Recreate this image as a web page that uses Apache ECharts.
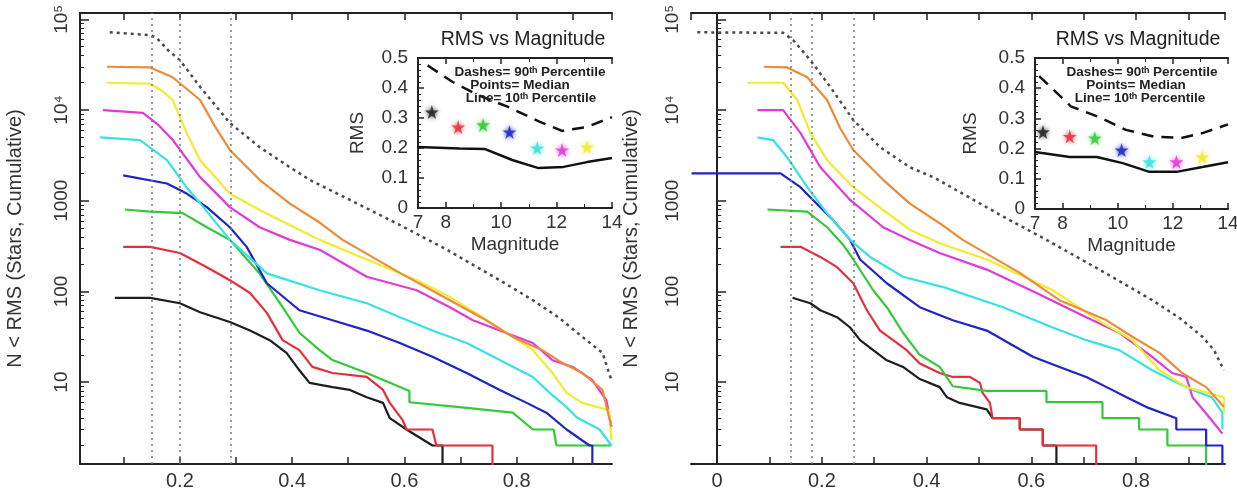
<!DOCTYPE html>
<html><head><meta charset="utf-8">
<script src="https://cdn.jsdelivr.net/npm/echarts@6/dist/echarts.min.js"></script>
<style>html,body{margin:0;padding:0;background:#fff}#c{width:1237px;height:493px}</style>
</head><body><div id="c"></div>
<script>
// ---------------- DATA ----------------
// Left panel: cumulative N(<RMS) per magnitude bin  [rms, N]
const leftTotal   = [[0.075,72000],[0.147,67000],[0.159,62000],[0.180,45000],[0.200,35500],[0.236,18000],[0.289,7200],[0.342,3900],[0.396,2340],[0.431,1700],[0.503,1020],[0.592,540],[0.675,290],[0.770,133],[0.829,80],[0.876,51],[0.917,31.6],[0.953,21],[0.969,10.5]];
const leftOrange  = [[0.070,30000],[0.147,29500],[0.187,23000],[0.236,12900],[0.262,6700],[0.289,3630],[0.342,1700],[0.396,930],[0.449,575],[0.490,370],[0.592,160],[0.681,80],[0.746,48],[0.793,31.5],[0.846,22.5],[0.882,16.2],[0.917,12.6],[0.953,8.2],[0.969,3.2]];
const leftYellow  = [[0.070,20000],[0.147,19500],[0.170,16000],[0.187,12900],[0.212,5600],[0.236,2800],[0.289,1200],[0.342,790],[0.396,540],[0.449,370],[0.533,225],[0.622,133],[0.681,87],[0.739,52],[0.793,31.5],[0.829,22.5],[0.864,12.6],[0.889,7.6],[0.917,5.9],[0.965,4.9],[0.969,2.3]];
const leftMagenta = [[0.063,10000],[0.134,9300],[0.160,7000],[0.187,4700],[0.236,1820],[0.289,850],[0.342,510],[0.396,370],[0.449,288],[0.533,145],[0.622,103],[0.681,67],[0.722,48],[0.770,37],[0.829,27],[0.864,17.4],[0.900,14.7],[0.935,10.5],[0.960,6.3],[0.969,3.2]];
const leftCyan    = [[0.058,5000],[0.129,4650],[0.177,2800],[0.212,1400],[0.236,940],[0.289,370],[0.355,158],[0.449,103],[0.533,74],[0.592,52],[0.650,37],[0.711,27],[0.770,17.5],[0.829,11.4],[0.859,7.6],[0.889,5.3],[0.907,4.1],[0.948,3],[0.969,2]];
const leftBlue    = [[0.099,1900],[0.177,1550],[0.212,1200],[0.248,850],[0.289,510],[0.319,310],[0.355,123],[0.413,62],[0.472,48],[0.533,37],[0.592,27],[0.650,19],[0.711,12.6],[0.770,8.2],[0.818,5.9],[0.853,4.6],[0.889,3],[0.930,2],[0.935,2],[0.935,1]];
const leftGreen   = [[0.102,800],[0.147,760],[0.205,730],[0.248,510],[0.289,370],[0.342,158],[0.383,67],[0.413,35],[0.449,22.5],[0.472,17.5],[0.533,12.6],[0.609,8],[0.609,6],[0.698,5.3],[0.793,4.6],[0.829,3],[0.866,3],[0.871,2],[0.969,2]];
const leftRed     = [[0.099,310],[0.147,310],[0.200,265],[0.248,185],[0.289,133],[0.325,96],[0.355,58],[0.383,29],[0.413,22.5],[0.436,14.7],[0.472,12.6],[0.533,11.4],[0.562,8.2],[0.574,5.9],[0.597,3.8],[0.604,3],[0.650,3],[0.657,2],[0.757,2],[0.757,1]];
const leftBlack   = [[0.084,85],[0.147,85],[0.200,74],[0.236,59],[0.289,46],[0.325,37],[0.360,29],[0.390,21],[0.413,13.5],[0.431,9.8],[0.472,8.8],[0.503,8.2],[0.533,6.8],[0.562,5.9],[0.574,4],[0.604,3],[0.650,2],[0.668,2],[0.668,1]];
const leftVLines  = [0.146, 0.203, 0.289];

// Right panel
const rightTotal   = [[-0.038,72000],[0.126,71000],[0.145,59000],[0.178,35500],[0.216,18000],[0.260,7760],[0.311,3900],[0.368,2340],[0.416,1780],[0.540,700],[0.629,370],[0.730,174],[0.831,80],[0.883,51],[0.927,31.6],[0.949,22.5],[0.968,13.5]];
const rightOrange  = [[0.089,30000],[0.134,29500],[0.172,23000],[0.210,12900],[0.235,6300],[0.260,3630],[0.317,1700],[0.368,930],[0.425,565],[0.469,370],[0.578,160],[0.654,80],[0.744,48],[0.793,31.6],[0.845,21],[0.888,12.6],[0.934,8.8],[0.968,5.3]];
const rightYellow  = [[0.058,20000],[0.126,20000],[0.153,12900],[0.178,5600],[0.210,2800],[0.260,1410],[0.317,790],[0.368,480],[0.425,340],[0.515,225],[0.641,103],[0.736,45],[0.793,29],[0.845,13.5],[0.896,8.8],[0.968,6.8],[0.968,4.6]];
const rightMagenta = [[0.077,10000],[0.126,10000],[0.159,5600],[0.197,2340],[0.254,1020],[0.317,510],[0.368,370],[0.425,265],[0.515,174],[0.610,96],[0.705,52],[0.768,35],[0.831,19],[0.869,12.6],[0.896,11.4],[0.908,6.8],[0.934,4.5],[0.965,2.7]];
const rightCyan    = [[0.077,5000],[0.107,4650],[0.134,3000],[0.172,1410],[0.210,725],[0.254,370],[0.292,240],[0.355,145],[0.435,110],[0.546,67],[0.641,40],[0.705,29],[0.768,22.5],[0.831,13.5],[0.869,10.5],[0.908,8.2],[0.945,6.8],[0.965,4.6],[0.965,3]];
const rightBlue    = [[-0.049,2000],[0.121,2000],[0.159,1410],[0.183,1020],[0.221,615],[0.254,370],[0.273,225],[0.324,123],[0.387,67],[0.450,48],[0.515,37],[0.603,19],[0.654,14.7],[0.705,11.4],[0.744,8.8],[0.782,6.8],[0.820,5.3],[0.877,4],[0.877,3],[0.934,3],[0.934,2],[0.965,2],[0.965,1]];
const rightGreen   = [[0.096,800],[0.172,760],[0.210,510],[0.240,330],[0.260,225],[0.298,103],[0.324,67],[0.355,35],[0.387,20],[0.425,14.7],[0.450,9],[0.515,8],[0.629,8],[0.629,6],[0.736,6],[0.736,4],[0.806,4],[0.806,3],[0.860,3],[0.860,2],[0.934,2],[0.934,1]];
const rightRed     = [[0.121,310],[0.159,310],[0.197,240],[0.229,185],[0.260,123],[0.286,62],[0.311,37],[0.336,29],[0.362,22.5],[0.387,16],[0.425,12.6],[0.450,11.4],[0.483,11.4],[0.502,9.8],[0.507,7.6],[0.521,5.9],[0.526,4],[0.578,4],[0.578,3],[0.622,3],[0.622,2],[0.724,2],[0.724,1]];
const rightBlack   = [[0.144,85],[0.159,80],[0.178,74],[0.197,62],[0.229,52],[0.254,40],[0.273,29],[0.298,22.5],[0.324,17.4],[0.355,14.7],[0.387,10.8],[0.425,8.8],[0.439,6.8],[0.463,5.9],[0.515,5],[0.526,4],[0.578,4],[0.578,3],[0.622,3],[0.622,2],[0.648,2],[0.648,1]];
const rightVLines  = [0.136, 0.178, 0.261];

// Insets: RMS vs Magnitude
const leftInsetMags   = [7.5, 8.45, 9.35, 10.3, 11.3, 12.2, 13.1];
const leftInsetMedian = [0.32, 0.27, 0.277, 0.253, 0.20, 0.193, 0.203];
const leftInset90     = [[7.35,0.475],[8.25,0.42],[9.15,0.377],[10.25,0.337],[11.4,0.287],[12.2,0.257],[13.1,0.27],[14.0,0.303]];
const leftInset10     = [[7.0,0.203],[8.5,0.198],[9.4,0.197],[10.4,0.16],[11.35,0.133],[12.25,0.137],[13.1,0.153],[14.0,0.167]];
const rightInsetMags   = [7.29, 8.26, 9.17, 10.14, 11.15, 12.13, 13.07];
const rightInsetMedian = [0.255, 0.24, 0.235, 0.195, 0.156, 0.156, 0.172];
const rightInset90     = [[7.15,0.44],[8.3,0.34],[9.3,0.305],[10.3,0.262],[11.3,0.24],[12.3,0.235],[13.1,0.252],[14.0,0.28]];
const rightInset10     = [[7.0,0.189],[8.26,0.172],[9.24,0.172],[10.18,0.152],[11.15,0.123],[12.13,0.123],[13.07,0.139],[14.0,0.155]];

const yTickLabels = {1:'10', 2:'100', 3:'1000', 4:'10\u2074', 5:'10\u2075'};

// ---------------- STYLE ----------------
const FONT = '"Liberation Sans", Arial, Helvetica, sans-serif';
const C = {black:'#1e1e1e', red:'#e4303a', green:'#34c83a', blue:'#2024c4', cyan:'#38e2e2',
           magenta:'#e03ad8', yellow:'#f0ec30', orange:'#ec8c38', total:'#4a4a4a', vline:'#7a7a7a'};
const starColors = [C.black, C.red, C.green, C.blue, C.cyan, C.magenta, C.yellow];
const STAR = 'path://M50,0 L61,35 L98,35 L68,57 L79,91 L50,70 L21,91 L32,57 L2,35 L39,35 Z';
const AXC = '#222';

function xFmt(v) {
  const k = Math.round(v * 10);
  if (Math.abs(v * 10 - k) > 1e-6 || k % 2 !== 0) return '';
  return k === 0 ? '0' : (k / 10).toFixed(1);
}
function yFmt(v) {
  const l = Math.log10(v), e = Math.round(l);
  if (Math.abs(l - e) > 1e-6) return '';
  return yTickLabels[e] || '';
}
function mainX(grid, min, max, pos) {
  return {type:'value', gridIndex:grid, min:min, max:max, splitNumber:10, position:pos,
    axisLine:{show:true, onZero:false, lineStyle:{color:AXC, width:2}},
    axisTick:{show:true, inside:true, length:7, lineStyle:{color:AXC, width:1.5}},
    axisLabel:{show: pos === 'bottom', formatter:xFmt, fontSize:20, color:'#333', fontFamily:FONT, margin:7, showMinLabel:false, showMaxLabel:false},
    splitLine:{show:false}};
}
function mainY(grid, gap) {
  return {type:'log', logBase:10, gridIndex:grid, min:1.25, max:117500,
    name:'N < RMS (Stars, Cumulative)', nameLocation:'middle', nameGap:gap,
    nameTextStyle:{fontSize:20, color:'#333', fontFamily:FONT},
    axisLine:{show:true, lineStyle:{color:AXC, width:2}},
    axisTick:{show:true, inside:true, length:9, lineStyle:{color:AXC, width:1.5}},
    minorTick:{show:true, splitNumber:9, length:4, lineStyle:{color:AXC, width:1}},
    axisLabel:{formatter:yFmt, rotate:90, fontSize:19, color:'#333', fontFamily:FONT, margin:9, showMinLabel:false, showMaxLabel:false},
    splitLine:{show:false}};
}
function insetX(grid, pos) {
  return {type:'value', gridIndex:grid, min:7, max:14, splitNumber:4, position:pos,
    name: pos === 'bottom' ? 'Magnitude' : '', nameLocation:'middle', nameGap:27,
    nameTextStyle:{fontSize:19, color:'#333', fontFamily:FONT},
    axisLine:{show:true, onZero:false, lineStyle:{color:AXC, width:2}},
    axisTick:{show:true, inside:true, length:6, lineStyle:{color:AXC, width:1.5}},
    minorTick:{show:true, splitNumber:2, length:4, lineStyle:{color:AXC, width:1}},
    axisLabel:{show: pos === 'bottom', fontSize:19, color:'#333', fontFamily:FONT, margin:5},
    splitLine:{show:false}};
}
function insetY(grid, gap) {
  return {type:'value', gridIndex:grid, min:0, max:0.5, splitNumber:5,
    name:'RMS', nameLocation:'middle', nameGap:gap,
    nameTextStyle:{fontSize:19, color:'#333', fontFamily:FONT},
    axisLine:{show:true, lineStyle:{color:AXC, width:2}},
    axisTick:{show:true, inside:true, length:6, lineStyle:{color:AXC, width:1.5}},
    minorTick:{show:true, splitNumber:5, length:3, lineStyle:{color:AXC, width:1}},
    axisLabel:{fontSize:19, color:'#333', fontFamily:FONT, margin:10},
    splitLine:{show:false}};
}
function line(data, color, xi, yi, extra) {
  return Object.assign({type:'line', xAxisIndex:xi, yAxisIndex:yi, data:data, symbol:'none', showSymbol:false,
    lineStyle:{color:color, width:2.2}, itemStyle:{color:color}, silent:true, z:3}, extra || {});
}
function vlines(vals) {
  return {symbol:['none','none'], silent:true, label:{show:false},
    lineStyle:{color:C.vline, type:[2,4], width:1.5}, data: vals.map(v => ({xAxis:v}))};
}
function stars(mags, med, xi, yi) {
  return {type:'scatter', xAxisIndex:xi, yAxisIndex:yi, symbol:STAR, symbolSize:14, silent:true, z:5,
    data: mags.map((m, i) => ({value:[m, med[i]], itemStyle:{color:starColors[i], shadowBlur:4, shadowColor:starColors[i]}}))};
}

const series = [];
function panel(d, xi, yi, vl) {
  series.push(line(d.total, C.total, xi, yi, {lineStyle:{color:C.total, width:2.5, type:[3,4]}, markLine:vlines(vl)}));
  series.push(line(d.black, C.black, xi, yi));
  series.push(line(d.red, C.red, xi, yi));
  series.push(line(d.green, C.green, xi, yi));
  series.push(line(d.blue, C.blue, xi, yi));
  series.push(line(d.cyan, C.cyan, xi, yi));
  series.push(line(d.magenta, C.magenta, xi, yi));
  series.push(line(d.yellow, C.yellow, xi, yi));
  series.push(line(d.orange, C.orange, xi, yi));
}
panel({total:leftTotal, black:leftBlack, red:leftRed, green:leftGreen, blue:leftBlue, cyan:leftCyan, magenta:leftMagenta, yellow:leftYellow, orange:leftOrange}, 0, 0, leftVLines);
panel({total:rightTotal, black:rightBlack, red:rightRed, green:rightGreen, blue:rightBlue, cyan:rightCyan, magenta:rightMagenta, yellow:rightYellow, orange:rightOrange}, 2, 1, rightVLines);

series.push(line(leftInset90, '#111', 4, 2, {lineStyle:{color:'#111', width:2.5, type:[12,8]}}));
series.push(line(leftInset10, '#111', 4, 2, {lineStyle:{color:'#111', width:2.5}}));
series.push(stars(leftInsetMags, leftInsetMedian, 4, 2));
series.push(line(rightInset90, '#111', 6, 3, {lineStyle:{color:'#111', width:2.5, type:[12,8]}}));
series.push(line(rightInset10, '#111', 6, 3, {lineStyle:{color:'#111', width:2.5}}));
series.push(stars(rightInsetMags, rightInsetMedian, 6, 3));

function txt(x, y, s, size, weight) {
  return {type:'text', x:x, y:y, silent:true, z:10,
    style:{text:s, fontSize:size, fontWeight:weight || 'normal', fontFamily:FONT, fill:'#222', align:'center', verticalAlign:'middle'}};
}

const option = {
  animation:false,
  backgroundColor:'#ffffff',
  grid:[
    {left:80, top:13, width:532, height:451, outerBoundsMode:'none', containLabel:false},
    {left:691, top:13, width:534, height:451, outerBoundsMode:'none', containLabel:false},
    {left:418, top:58, width:194, height:150, outerBoundsMode:'none', containLabel:false},
    {left:1035, top:58, width:193, height:151, outerBoundsMode:'none', containLabel:false}
  ],
  xAxis:[
    mainX(0, 0.022, 0.97, 'bottom'), mainX(0, 0.022, 0.97, 'top'),
    mainX(1, -0.05, 0.97, 'bottom'), mainX(1, -0.05, 0.97, 'top'),
    insetX(2, 'bottom'), insetX(2, 'top'),
    insetX(3, 'bottom'), insetX(3, 'top')
  ],
  yAxis:[ mainY(0, 55), mainY(1, 50), insetY(2, 51), insetY(3, 55) ],
  series:series,
  graphic:[
    txt(523, 40, 'RMS vs Magnitude', 19.5),
    txt(530, 72, 'Dashes= 90\u1D57\u02B0 Percentile', 13.5, 'bold'),
    txt(520, 85, 'Points= Median', 13.5, 'bold'),
    txt(531, 98, 'Line= 10\u1D57\u02B0 Percentile', 13.5, 'bold'),
    txt(1138, 40, 'RMS vs Magnitude', 19.5),
    txt(1142, 72, 'Dashes= 90\u1D57\u02B0 Percentile', 13.5, 'bold'),
    txt(1136, 85, 'Points= Median', 13.5, 'bold'),
    txt(1140, 98, 'Line= 10\u1D57\u02B0 Percentile', 13.5, 'bold')
  ]
};
const chart = echarts.init(document.getElementById('c'), null, {renderer:'canvas'});
chart.setOption(option);
</script></body></html>
